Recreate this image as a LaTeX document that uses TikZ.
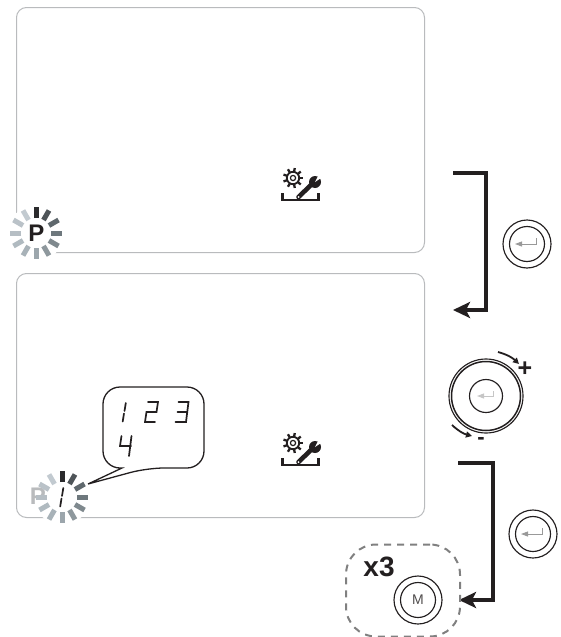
\documentclass[tikz,border=0pt]{standalone}
\usepackage{fontspec}
\setmainfont{Liberation Sans}
\usetikzlibrary{arrows.meta}
\definecolor{ink}{HTML}{231F20}
\definecolor{panelline}{HTML}{B9BBBD}
\definecolor{spa}{HTML}{2B2B2D}
\definecolor{spb}{HTML}{4E5458}
\definecolor{spc}{HTML}{5F686D}
\definecolor{spd}{HTML}{6E787D}
\definecolor{spe}{HTML}{7F898E}
\definecolor{spf}{HTML}{8E989D}
\definecolor{spg}{HTML}{9CA6AC}
\definecolor{sph}{HTML}{A8B2B8}
\definecolor{spi}{HTML}{B0BAC0}
\definecolor{spj}{HTML}{B6BEC4}
\definecolor{spk}{HTML}{BAC2C8}
\definecolor{spl}{HTML}{C2CAD0}
\tikzset{
 panel/.style={draw=panelline,line width=1pt,rounded corners=10pt},
 flow/.style={draw=ink,line width=4pt,-{Triangle[length=17pt,width=16pt,inset=4pt]}},
 ringouter/.style={draw=ink,line width=1.15pt,circle,minimum size=#1,inner sep=0pt},
 enterglyph/.style={draw=#1,line width=0.9pt,-{Triangle[length=7pt,width=5pt]}},
 seg/.style={draw=ink,line width=1.7pt,line cap=round,line join=miter},
 arc arrow/.style={draw=ink,line width=1.8pt,-{Triangle[length=6pt,width=6pt]}},
}
\newcommand{\spinnerat}[2]{%
 \foreach \a/\g in {0/spa,30/spb,60/spc,90/spd,120/spe,150/spf,180/spg,210/sph,240/spi,270/spj,300/spk,330/spl}{%
  \draw[draw=\g,line width=5pt]
   (#1,#2) ++({sin(\a)*15},{-cos(\a)*15}) -- ++({sin(\a)*11},{-cos(\a)*11});
 }%
}
\newcommand{\toolicon}[1]{%
 \begin{scope}[yshift=#1]
  \draw[ink,line width=2.6pt] (282.5,193) -- (282.5,200) -- (318.5,200) -- (318.5,193);
  \draw[ink,line width=1.2pt] (293,178) circle (2.6pt);
  \draw[ink,line width=1.8pt] (293,178) circle (6.2pt);
  \foreach \a in {0,40,...,320}{\draw[ink,line width=2.3pt] (293,178) ++(\a:6.5pt) -- ++(\a:3.6pt);}
  \draw[ink,line width=4.6pt,line cap=round] (298.5,197) -- (311,185);
  \fill[ink] (315,182) circle (6pt);
  \fill[white] (315,182) -- (320.5,171.5) -- (324,176) -- cycle;
  \fill[white] (298.5,197) circle (1pt);
 \end{scope}%
}
\newcommand{\dgone}[2]{\draw[seg] (#1+1.5,#2+9) -- (#1+2.8,#2+1);\draw[seg] (#1+1.0,#2+11.5) -- (#1-0.3,#2+19.5);}
\newcommand{\dgtwo}[2]{\draw[seg] (#1+3,#2) -- (#1+13,#2) -- (#1+11.5,#2+10) -- (#1+1.5,#2+10) -- (#1,#2+20) -- (#1+10,#2+20);}
\newcommand{\dgthree}[2]{\draw[seg] (#1+3,#2) -- (#1+13,#2) -- (#1+10.5,#2+20) -- (#1,#2+20);\draw[seg] (#1+2,#2+10) -- (#1+11.5,#2+10);}
\newcommand{\dgfour}[2]{\draw[seg] (#1+1.5,#2) -- (#1,#2+10) -- (#1+11,#2+10);\draw[seg] (#1+11.5,#2) -- (#1+9,#2+20);}
\begin{document}
\begin{tikzpicture}[x=1pt,y=-1pt,every node/.style={text=ink}]
\useasboundingbox (0,0) rectangle (561,637);
\node[panel,minimum width=408pt,minimum height=245pt,anchor=north west,inner sep=0pt] (panelA) at (16,7) {};
\node[panel,minimum width=408pt,minimum height=244pt,anchor=north west,inner sep=0pt] (panelB) at (16,273) {};
\toolicon{0pt}
\toolicon{-265pt}
\fill[white] (36,233) circle (28pt);
\spinnerat{36}{233}
\node[font=\bfseries\fontsize{24}{24}\selectfont,inner sep=0pt] (letterP) at (36.5,233) {P};
\fill[white] (62,497) circle (28pt);
\node[font=\bfseries\fontsize{24}{24}\selectfont,inner sep=0pt,text=panelline] (letterPgrey) at (38,496) {P};
\spinnerat{62}{497}
\dgone{60.5}{487}
\coordinate (bubbleTip) at (88,484);
\draw[draw=ink,line width=1.3pt,fill=white,line join=miter]
 (122,468) -- (119,468) [rounded corners=17pt] -- (103,468) -- (103,387) -- (204,387) -- (204,468) -- (147,468) [sharp corners] -- (bubbleTip) -- (122,468) -- cycle;
\dgone{123}{402}
\dgtwo{145}{402}
\dgthree{175.5}{402}
\dgfour{120}{436}
\coordinate (a1s) at (453,173); \coordinate (a1c) at (486,173); \coordinate (a1d) at (486,310); \coordinate (a1e) at (453,310);
\coordinate (a2s) at (458,463); \coordinate (a2c) at (493,463); \coordinate (a2d) at (493,600); \coordinate (a2e) at (459,600);
\draw[flow] (a1s) -- (a1c) -- (a1d) -- (a1e);
\draw[flow] (a2s) -- (a2c) -- (a2d) -- (a2e);
\node[ringouter=48pt] (btnA) at (527,244) {};
\node[ringouter=35pt] (btnAi) at (527,244) {};
\draw[enterglyph=gray!80] (536,238) -- (536,244) -- (515,244);
\node[ringouter=48pt] (btnB) at (533,534) {};
\node[ringouter=35pt] (btnBi) at (533,534) {};
\draw[enterglyph=gray!80] (542,528) -- (542,534) -- (521,534);
\node[ringouter=74pt] (dialA) at (486,396) {};
\node[ringouter=69pt,line width=1.5pt] (dialB) at (486,396) {};
\node[ringouter=33pt] (dialC) at (486,396) {};
\draw[enterglyph=gray!45] (493,391) -- (493,396) -- (477,396);
\draw[arc arrow] (498,352) to[bend left=14] (519,364);
\draw[arc arrow] (452,425) to[bend right=14] (472,436);
\node[font=\bfseries\fontsize{25}{25}\selectfont,inner sep=0pt] (plusSign) at (525,369) {+};
\node[font=\bfseries\fontsize{22}{22}\selectfont,inner sep=0pt] (minusSign) at (481,440.5) {-};
\node[draw=gray,dash pattern=on 7pt off 6pt,line width=2pt,rounded corners=30pt,minimum width=114pt,minimum height=92pt,anchor=north west,inner sep=0pt] (dashBox) at (345,543.5) {};
\node[font=\bfseries\fontsize{28}{28}\selectfont,inner sep=0pt] (xthree) at (379,567) {x3};
\node[ringouter=48pt] (btnM) at (418,600) {};
\node[ringouter=35pt,font=\fontsize{14}{14}\selectfont,text=ink!80] (btnMi) at (418,600) {M};
\end{tikzpicture}
\end{document}
